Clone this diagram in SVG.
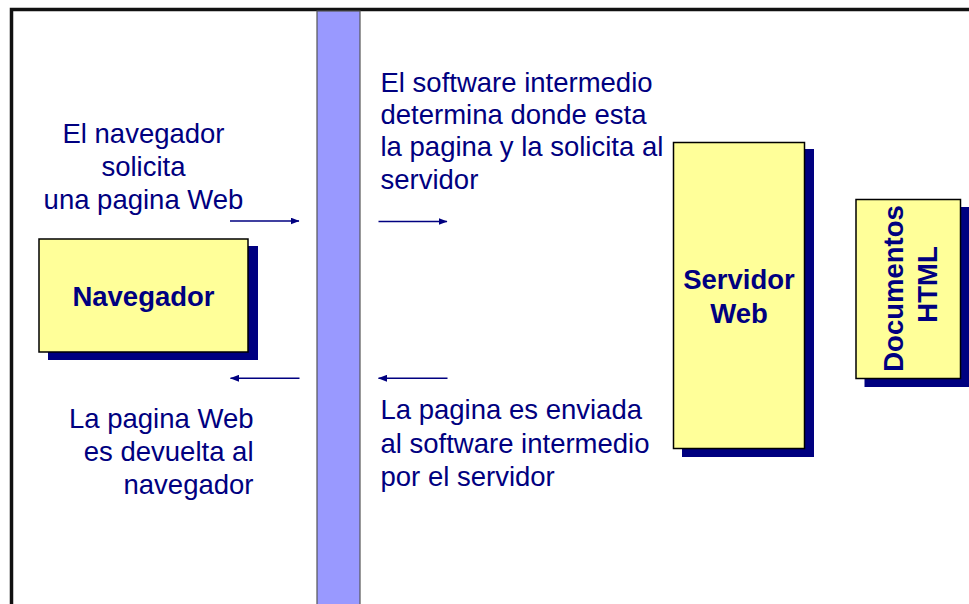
<svg xmlns="http://www.w3.org/2000/svg" width="969" height="604" viewBox="0 0 969 604">
<style>
.t{font-family:"Liberation Sans",Arial,sans-serif;font-size:27.5px;fill:#000080}
.b{font-family:"Liberation Sans",Arial,sans-serif;font-size:27.5px;font-weight:bold;fill:#000080}
.box{fill:#FFFF99;stroke:#000;stroke-width:1.5}
.sh{fill:#000080}
.arr{stroke:#000080;stroke-width:1.5;fill:none;marker-end:url(#ah)}
</style>
<defs>
<marker id="ah" markerWidth="9" markerHeight="7" refX="8.5" refY="3.5" orient="auto" markerUnits="userSpaceOnUse">
<path d="M0,0 L9,3.5 L0,7 Z" fill="#000080"/>
</marker>
</defs>
<rect width="969" height="604" fill="#fff"/>
<g id="frame">
<path d="M11.5,604 V9.5 H969" fill="none" stroke="#111" stroke-width="3.5"/>
</g>
<g id="middleware">
<rect x="317" y="11" width="43" height="600" fill="#9999FF" stroke="#555" stroke-width="1.2"/>
</g>
<g id="navegador">
<rect class="sh" x="48" y="246" width="210" height="114"/>
<rect class="box" x="39" y="239" width="209" height="113"/>
<text class="b" x="143.5" y="306" text-anchor="middle">Navegador</text>
</g>
<g id="servidor">
<rect class="sh" x="682" y="149" width="132" height="308"/>
<rect class="box" x="673.5" y="142.5" width="131" height="306"/>
<text class="b" x="739" y="289" text-anchor="middle">Servidor</text>
<text class="b" x="739" y="322.5" text-anchor="middle">Web</text>
</g>
<g id="documentos">
<rect class="sh" x="864.5" y="207" width="110" height="180"/>
<rect class="box" x="856" y="199.5" width="104.5" height="179"/>
<text class="b" transform="translate(903,288.5) rotate(-90)" text-anchor="middle">Documentos</text>
<text class="b" transform="translate(936.5,284.5) rotate(-90)" text-anchor="middle">HTML</text>
</g>
<g id="labels">
<text class="t" text-anchor="middle"><tspan x="143.5" y="142.5">El navegador</tspan><tspan x="143.5" y="175.5">solicita</tspan><tspan x="143.5" y="208.5">una pagina Web</tspan></text>
<text class="t"><tspan x="380.5" y="91.7">El software intermedio</tspan><tspan x="380.5" y="124">determina donde esta</tspan><tspan x="380.5" y="156.3">la pagina y la solicita al</tspan><tspan x="380.5" y="188.6">servidor</tspan></text>
<text class="t" text-anchor="end"><tspan x="253.5" y="428.3">La pagina Web</tspan><tspan x="253.5" y="460.8">es devuelta al</tspan><tspan x="253.5" y="493.5">navegador</tspan></text>
<text class="t"><tspan x="380.5" y="419.3">La pagina es enviada</tspan><tspan x="380.5" y="452.5">al software intermedio</tspan><tspan x="380.5" y="485.5">por el servidor</tspan></text>
</g>
<g id="connectors">
<line class="arr" x1="230" y1="221" x2="299" y2="221"/>
<line class="arr" x1="378.5" y1="221.5" x2="447" y2="221.5"/>
<line class="arr" x1="299.5" y1="378.3" x2="230.5" y2="378.3"/>
<line class="arr" x1="447.5" y1="378.3" x2="378.5" y2="378.3"/>
</g>
</svg>
